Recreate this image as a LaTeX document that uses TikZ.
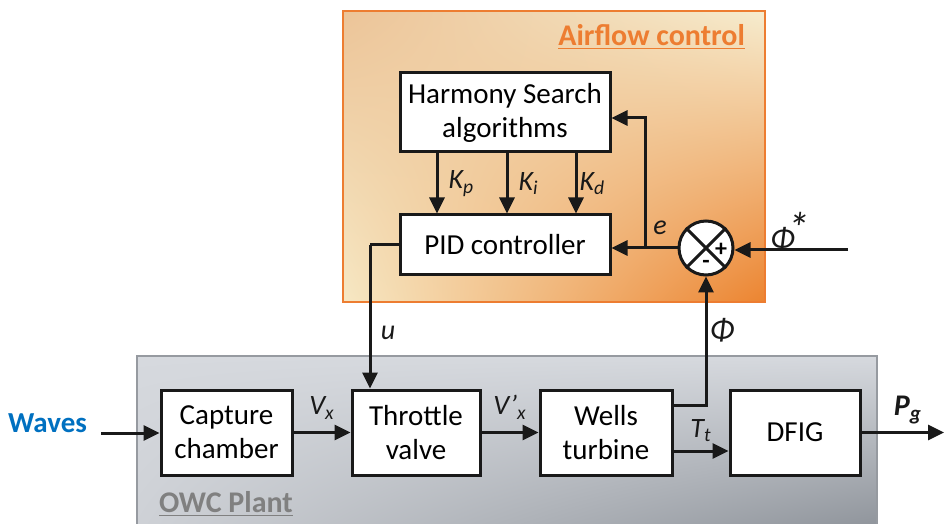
\documentclass[tikz,border=0pt]{standalone}
\usepackage{fontspec}
\setmainfont{Carlito}
\usetikzlibrary{arrows.meta,positioning,shadings}

\definecolor{flowor}{RGB}{237,125,49}
\definecolor{flowul}{RGB}{236,196,152}
\definecolor{flowur}{RGB}{246,236,206}
\definecolor{flowll}{RGB}{246,232,196}
\definecolor{flowlr}{RGB}{236,132,48}
\definecolor{plantgr}{RGB}{150,154,160}
\definecolor{plantul}{RGB}{214,217,222}
\definecolor{plantll}{RGB}{206,209,214}
\definecolor{plantlr}{RGB}{142,147,154}
\definecolor{wavebl}{RGB}{0,112,192}
\definecolor{linek}{RGB}{25,25,25}

\tikzset{
	block/.style={draw=linek, fill=white, line width=1.5pt, align=center, inner sep=0pt,
		font=\fontsize{14.5}{17}\selectfont},
	sigline/.style={line width=1.5pt, draw=linek, -{Triangle[length=8pt,width=7.5pt]}},
	plainline/.style={line width=1.5pt, draw=linek},
	sig/.style={font=\fontsize{14}{16}\selectfont\itshape, text=linek, inner sep=1pt},
}

\begin{document}
\begin{tikzpicture}[x=0.5pt, y=-0.5pt]

		\useasboundingbox (0,0) rectangle (944,524);

		% --- Background panels ---
		\shade[upper left=flowul, upper right=flowur, lower left=flowll, lower right=flowlr]
			(343,11) rectangle (765,302);
		\draw[flowor, line width=1pt] (343,11) rectangle (765,302);
		\node[anchor=east, text=flowor, font=\fontsize{15}{18}\selectfont\bfseries] (flowtitle) at (752,37) {\underline{Airflow control}};

		\shade[upper left=plantul, upper right=plantul, lower left=plantll, lower right=plantlr]
			(137,356) rectangle (877,530);
		\draw[plantgr, line width=1pt] (137,530) -- (137,356) -- (877,356) -- (877,530);
		\node[anchor=west, text=gray, font=\fontsize{15}{18}\selectfont\bfseries] (planttitle) at (152,504) {\underline{OWC Plant}};

		% --- Blocks ---
		\node[block, minimum width=105pt, minimum height=39.5pt] (hs) at (505,112.5) {Harmony Search\\algorithms};
		\node[block, minimum width=105pt, minimum height=30pt] (pid) at (505,245) {PID controller};

		\node[block, minimum width=65.5pt, minimum height=42.5pt] (capture) at (226.5,432.5) {Capture\\chamber};
		\node[block, minimum width=64pt, minimum height=42.5pt] (throttle) at (416,432.5) {Throttle\\valve};
		\node[block, minimum width=66pt, minimum height=42.5pt] (wells) at (606,432.5) {Wells\\turbine};
		\node[block, minimum width=65pt, minimum height=42.5pt] (dfig) at (795,432.5) {DFIG};

		% Summing junction
		\node[circle, draw=linek, fill=white, line width=1.5pt, minimum size=27pt, inner sep=0pt] (sum) at (706,248) {};
		\draw[plainline] (sum.north west) -- (sum.south east);
		\draw[plainline] (sum.north east) -- (sum.south west);
		\node[font=\fontsize{12}{12}\selectfont\bfseries, inner sep=0pt] (plus) at (721,250) {+};
		\node[font=\fontsize{12}{12}\selectfont\bfseries, inner sep=0pt] (minus) at (706,264) {-};

		% --- Gains ---
		\draw[sigline] ([xshift=-34pt]hs.south) -- ([xshift=-34pt]pid.north) node[sig, midway, right=4pt] {K\textsubscript{p}};
		\draw[sigline] ([xshift=1pt]hs.south) -- ([xshift=1pt]pid.north) node[sig, midway, right=4pt] {K\textsubscript{i}};
		\draw[sigline] ([xshift=35.5pt]hs.south) -- ([xshift=35.5pt]pid.north) node[sig, midway, right=0pt] {K\textsubscript{d}};

		% --- Error feedback ---
		\coordinate (ebranch) at (645,248);
		\draw[sigline] (sum.west) -- (sum.west -| pid.east);
		\draw[sigline] (ebranch) |- ([yshift=-2.75pt]hs.east);
		\node[sig] (elabel) at (660,228) {e};

		% Reference flow
		\coordinate (phiref) at (848,250);
		\draw[sigline] (phiref) -- (phiref -| sum.east);
		\node[sig, font=\fontsize{16}{18}\selectfont\itshape] (phistar) at (790,232) {Φ\kern-3.5pt\raisebox{3pt}{\fontsize{22}{22}\selectfont *}};

		% --- Plant signals ---
		\coordinate (wavein) at (101,433);
		\node[anchor=east, text=wavebl, font=\fontsize{14.5}{17}\selectfont\bfseries] (waves) at (94,423) {Waves};
		\draw[sigline] (wavein) -- (wavein -| capture.west);

		\draw[sigline] (capture.east) -- (throttle.west) node[sig, midway, above=5pt] {V\textsubscript{x}};
		\draw[sigline] (throttle.east) -- (wells.west) node[sig, midway, above=5pt] {V’\textsubscript{x}};
		\draw[sigline] ([yshift=-9.25pt]wells.east) -- ([yshift=-9.25pt]wells.east -| dfig.west)
			node[sig, midway, above=3pt] {T\textsubscript{t}};

		\coordinate (pgout) at (944,432.5);
		\draw[sigline] (dfig.east) -- (pgout);
		\node[sig, font=\fontsize{15}{17}\selectfont\bfseries\itshape] (pglabel) at (908,410) {P\textsubscript{g}};

		% Measured flow back to junction
		\coordinate (phitap) at ([yshift=13.75pt]wells.east);
		\draw[sigline] (phitap) -| (sum.south);
		\node[sig, font=\fontsize{16}{18}\selectfont\itshape] (philabel) at (722,330) {Φ};

		% Control signal to throttle
		\coordinate (ubend) at (370,245);
		\draw[plainline] (pid.west) -- (ubend);
		\draw[sigline] (ubend) -- (ubend |- throttle.north);
		\node[sig] (ulabel) at (388,333) {u};

	\end{tikzpicture}
\end{document}
